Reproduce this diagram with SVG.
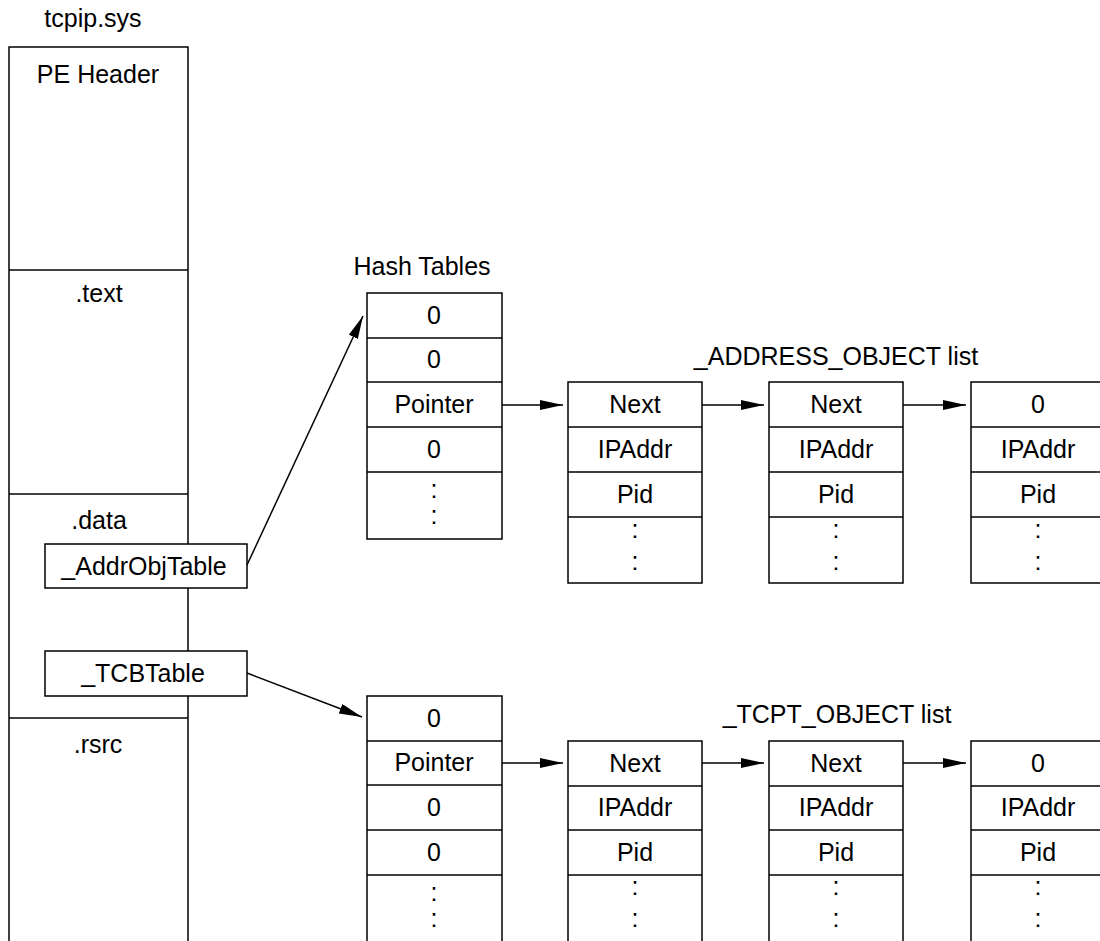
<svg xmlns="http://www.w3.org/2000/svg" width="1100" height="941" viewBox="0 0 1100 941">
<defs>
<style>
text{font-family:"Liberation Sans",Arial,sans-serif;font-size:25px;fill:#000;text-anchor:middle}
.box{fill:#fff;stroke:#000;stroke-width:1.5}
.div{stroke:#000;stroke-width:1.5;fill:none}
.con{stroke:#000;stroke-width:1.5;fill:none;marker-end:url(#ah)}
</style>
<marker id="ah" markerUnits="userSpaceOnUse" markerWidth="24" markerHeight="12" refX="23" refY="5" orient="auto" viewBox="0 0 24 12">
<path d="M0,0 L23,5 L0,10 z" fill="#000"/>
</marker>
</defs>
<rect width="1100" height="941" fill="#fff"/>

<g id="tcpip">
<text x="93" y="27">tcpip.sys</text>
<rect class="box" x="9" y="47" width="179" height="910"/>
<line class="div" x1="9" y1="270" x2="188" y2="270"/>
<line class="div" x1="9" y1="494" x2="188" y2="494"/>
<line class="div" x1="9" y1="718" x2="188" y2="718"/>
<text x="98" y="83">PE Header</text>
<text x="99" y="302">.text</text>
<text x="99" y="529">.data</text>
<text x="98" y="753">.rsrc</text>
</g>

<g id="addrobjtable">
<rect class="box" x="45" y="544" width="202" height="44"/>
<text x="144" y="575">_AddrObjTable</text>
</g>

<g id="tcbtable">
<rect class="box" x="45" y="651" width="202" height="45"/>
<text x="143" y="682">_TCBTable</text>
</g>

<g id="hashtable1">
<text x="422" y="275">Hash Tables</text>
<rect class="box" x="367" y="293" width="135" height="246"/>
<line class="div" x1="367" y1="338" x2="502" y2="338"/>
<line class="div" x1="367" y1="382" x2="502" y2="382"/>
<line class="div" x1="367" y1="427" x2="502" y2="427"/>
<line class="div" x1="367" y1="472" x2="502" y2="472"/>
<text x="434" y="324">0</text>
<text x="434" y="368">0</text>
<text x="434" y="413">Pointer</text>
<text x="434" y="458">0</text>
<text x="434" y="498">:</text>
<text x="434" y="524">:</text>
</g>

<g id="hashtable2">
<rect class="box" x="367" y="696" width="135" height="260"/>
<line class="div" x1="367" y1="741" x2="502" y2="741"/>
<line class="div" x1="367" y1="785" x2="502" y2="785"/>
<line class="div" x1="367" y1="830" x2="502" y2="830"/>
<line class="div" x1="367" y1="875" x2="502" y2="875"/>
<text x="434" y="727">0</text>
<text x="434" y="771">Pointer</text>
<text x="434" y="816">0</text>
<text x="434" y="861">0</text>
<text x="434" y="901">:</text>
<text x="434" y="927">:</text>
</g>

<text id="addr-list-title" x="836" y="365">_ADDRESS_OBJECT list</text>

<g id="addrobj1">
<rect class="box" x="568" y="382" width="134" height="201"/>
<line class="div" x1="568" y1="427" x2="702" y2="427"/>
<line class="div" x1="568" y1="472" x2="702" y2="472"/>
<line class="div" x1="568" y1="517" x2="702" y2="517"/>
<text x="635" y="413">Next</text>
<text x="635" y="458">IPAddr</text>
<text x="635" y="503">Pid</text>
<text x="635" y="538">:</text>
<text x="635" y="570">:</text>
</g>

<g id="addrobj2">
<rect class="box" x="769" y="382" width="134" height="201"/>
<line class="div" x1="769" y1="427" x2="903" y2="427"/>
<line class="div" x1="769" y1="472" x2="903" y2="472"/>
<line class="div" x1="769" y1="517" x2="903" y2="517"/>
<text x="836" y="413">Next</text>
<text x="836" y="458">IPAddr</text>
<text x="836" y="503">Pid</text>
<text x="836" y="538">:</text>
<text x="836" y="570">:</text>
</g>

<g id="addrobj3">
<rect class="box" x="971" y="382" width="134" height="201"/>
<line class="div" x1="971" y1="427" x2="1105" y2="427"/>
<line class="div" x1="971" y1="472" x2="1105" y2="472"/>
<line class="div" x1="971" y1="517" x2="1105" y2="517"/>
<text x="1038" y="413">0</text>
<text x="1038" y="458">IPAddr</text>
<text x="1038" y="503">Pid</text>
<text x="1038" y="538">:</text>
<text x="1038" y="570">:</text>
</g>

<text id="tcpt-list-title" x="837" y="723">_TCPT_OBJECT list</text>

<g id="tcpt1">
<rect class="box" x="568" y="741" width="134" height="215"/>
<line class="div" x1="568" y1="786" x2="702" y2="786"/>
<line class="div" x1="568" y1="830" x2="702" y2="830"/>
<line class="div" x1="568" y1="875" x2="702" y2="875"/>
<text x="635" y="772">Next</text>
<text x="635" y="816">IPAddr</text>
<text x="635" y="861">Pid</text>
<text x="635" y="895">:</text>
<text x="635" y="927">:</text>
</g>

<g id="tcpt2">
<rect class="box" x="769" y="741" width="134" height="215"/>
<line class="div" x1="769" y1="786" x2="903" y2="786"/>
<line class="div" x1="769" y1="830" x2="903" y2="830"/>
<line class="div" x1="769" y1="875" x2="903" y2="875"/>
<text x="836" y="772">Next</text>
<text x="836" y="816">IPAddr</text>
<text x="836" y="861">Pid</text>
<text x="836" y="895">:</text>
<text x="836" y="927">:</text>
</g>

<g id="tcpt3">
<rect class="box" x="971" y="741" width="134" height="215"/>
<line class="div" x1="971" y1="786" x2="1105" y2="786"/>
<line class="div" x1="971" y1="830" x2="1105" y2="830"/>
<line class="div" x1="971" y1="875" x2="1105" y2="875"/>
<text x="1038" y="772">0</text>
<text x="1038" y="816">IPAddr</text>
<text x="1038" y="861">Pid</text>
<text x="1038" y="895">:</text>
<text x="1038" y="927">:</text>
</g>

<g id="connectors">
<line class="con" x1="247" y1="565" x2="363" y2="316"/>
<line class="con" x1="247" y1="673" x2="362" y2="717"/>
<line class="con" x1="502" y1="405" x2="563" y2="405"/>
<line class="con" x1="702" y1="405" x2="764" y2="405"/>
<line class="con" x1="903" y1="405" x2="966" y2="405"/>
<line class="con" x1="502" y1="763" x2="563" y2="763"/>
<line class="con" x1="702" y1="763" x2="764" y2="763"/>
<line class="con" x1="903" y1="763" x2="966" y2="763"/>
</g>
</svg>
